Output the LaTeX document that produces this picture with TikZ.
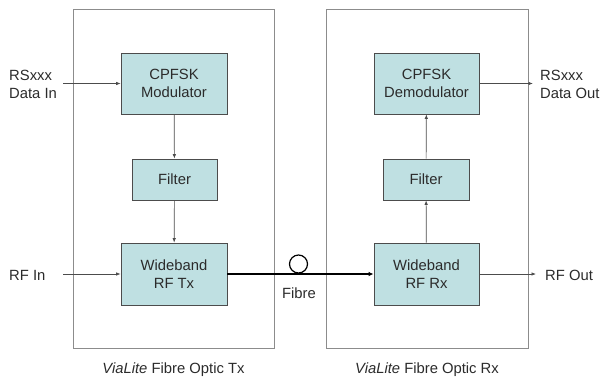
\documentclass[tikz,border=0pt]{standalone}
\usepackage{fontspec}
\setmainfont{Liberation Sans}
\usetikzlibrary{arrows.meta}
\definecolor{blkfill}{HTML}{BFE0E2}
\definecolor{txt}{HTML}{2B2B2B}

\begin{document}
\begin{tikzpicture}[x=1pt,y=-1pt,
    font=\fontsize{14.8}{18}\selectfont, text=txt,
    blk/.style={draw=black!70, fill=blkfill, line width=0.8pt, align=center,
      inner sep=0pt},
    outer/.style={draw=black!45, line width=0.8pt, inner sep=0pt},
    conn/.style={draw=black!70, line width=0.7pt,
      -{Latex[length=4.5pt,width=3.5pt]}},
    lbl/.style={anchor=west, align=left, inner sep=0pt}]
  \useasboundingbox (0,0) rectangle (604,378);
  % boitiers
  \node[outer, minimum width=201pt, minimum height=339pt] (txbox) at (173.5,178.5) {};
  \node[outer, minimum width=202pt, minimum height=339pt] (rxbox) at (427,178.5) {};
  % emetteur
  \node[blk, minimum width=106pt, minimum height=61pt] (mod) at (174,83.5) {CPFSK\\Modulator};
  \node[blk, minimum width=85pt, minimum height=41pt] (txfilt) at (174.5,179.5) {Filter};
  \node[blk, minimum width=106pt, minimum height=62pt] (tx) at (174,274) {Wideband\\RF Tx};
  % recepteur
  \node[blk, minimum width=105pt, minimum height=61pt] (demod) at (426.5,83.5) {CPFSK\\Demodulator};
  \node[blk, minimum width=86pt, minimum height=41pt] (rxfilt) at (426,179.5) {Filter};
  \node[blk, minimum width=105pt, minimum height=62pt] (rx) at (426.5,274) {Wideband\\RF Rx};
  % entrees / sorties
  \coordinate (datain) at (63,83.5);
  \coordinate (rfin) at (63,274);
  \coordinate (dataout) at (533,83.5);
  \coordinate (rfout) at (536,274);
  \node[lbl] (datainlbl) at (9,84) {RSxxx\\Data In};
  \node[lbl] (rfinlbl) at (9,275) {RF In};
  \node[lbl] (dataoutlbl) at (540,84) {RSxxx\\Data Out};
  \node[lbl] (rfoutlbl) at (545,275) {RF Out};
  \draw[conn] (datain) -- (mod);
  \draw[conn] (rfin) -- (tx);
  \draw[conn] (mod) -- (txfilt);
  \draw[conn] (txfilt) -- (tx);
  \draw[conn] (rx) -- (rxfilt);
  \draw[conn] (rxfilt) -- (demod);
  \draw[conn] (demod) -- (dataout);
  \draw[conn] (rx) -- (rfout);
  % fibre
  \draw[black, line width=1.6pt, -{Latex[length=5pt,width=4.5pt]}] (tx) -- (rx);
  \node[draw=black, line width=1.2pt, circle, minimum size=18pt, inner sep=0pt] (loop) at (298.5,264) {};
  \node (fibrelbl) at (299,293) {Fibre};
  % legendes
  \node (txcap) at (173.5,370) {\textit{ViaLite} Fibre Optic Tx};
  \node (rxcap) at (427,370) {\textit{ViaLite} Fibre Optic Rx};
\end{tikzpicture}
\end{document}
